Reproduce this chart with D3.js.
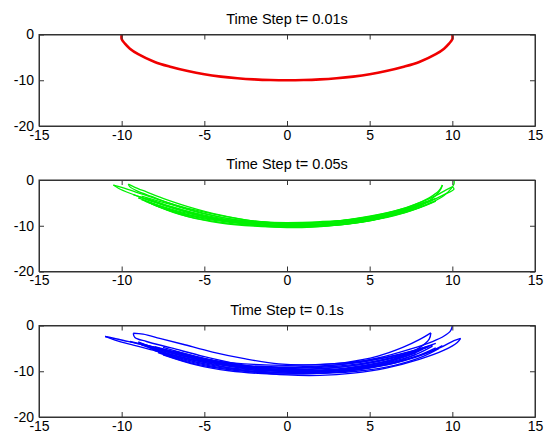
<!DOCTYPE html>
<html>
<head>
<meta charset="utf-8">
<script src="https://cdn.jsdelivr.net/npm/d3@7"></script>
<style>
  body { margin:0; background:#fff; }
  svg text { font-family: "Liberation Sans", Arial, Helvetica, sans-serif; }
</style>
</head>
<body>
<div id="chart"></div>
<script>
var titles = ["Time Step t= 0.01s", "Time Step t= 0.05s", "Time Step t= 0.1s"];
var colors = ["#f00000", "#00f000", "#0000ff"];
var xTicks = [-15, -10, -5, 0, 5, 10, 15];
var yTicks = [0, -10, -20];

// t = 0.01s : one thick arc
var redStrands = [
  [[-10,0],[-10,-1],[-9.8,-2],[-9.5,-3.1],[-9,-4.3],[-8,-6],[-7,-7.1],[-6,-8],[-5,-8.7],[-4,-9.2],[-3,-9.55],[-2,-9.8],[-1,-9.95],[0,-10],
   [1,-9.95],[2,-9.8],[3,-9.55],[4,-9.2],[5,-8.7],[6,-8],[7,-7.1],[8,-6],[9,-4.3],[9.5,-3.1],[9.8,-2],[10,-1],[10,0]]
];

// t = 0.05s : bundle of strands
var greenStrands = [
  [[-10.5,-1.1],[-10.2,-1.8],[-9.5,-2.9],[-8.5,-4.2],[-7,-5.9],[-5,-7.7],[-3,-9.0],[-1,-9.8],[0,-10.0],[1,-10.0],[3,-9.5],[5,-8.5],[7,-6.8],[8.5,-4.9],[9.5,-3.2],[10.1,-2.0],[10.0,-1.5]],
  [[-10.5,-1.1],[-9.9,-1.7],[-9.0,-2.8],[-8,-4.0],[-6.5,-5.7],[-4.5,-7.4],[-2.5,-8.7],[-0.5,-9.4],[0.5,-9.5],[2.5,-9.2],[4.5,-8.3],[6.5,-6.8],[8,-5.0],[9,-3.4],[9.6,-2.2],[10.0,-1.5]],
  [[-9.6,-0.9],[-9.5,-1.5],[-9.0,-2.5],[-8.2,-3.6],[-7,-5.2],[-5,-7.3],[-3,-8.8],[-1,-9.6],[1,-9.8],[3,-9.4],[5,-8.4],[7,-6.9],[8.3,-5.2],[9.0,-3.4],[9.3,-2.0],[9.4,-1.1]],
  [[-9.6,-0.9],[-9.2,-1.6],[-8.5,-2.6],[-7.5,-4.0],[-6,-5.8],[-4,-7.7],[-2,-9.0],[0,-9.5],[2,-9.3],[4,-8.5],[6,-7.2],[7.5,-5.7],[8.6,-3.9],[9.2,-2.3],[9.4,-1.1]],
  [[-9.3,-3.2],[-8,-4.8],[-6,-7.0],[-4,-8.6],[-2,-9.7],[0,-10.2],[2,-10.0],[4,-9.3],[6,-8.0],[7.5,-6.6],[8.7,-5.0],[9.5,-3.4],[9.9,-2.0],[10.1,-0.9],[10.1,0]],
  [[-9.0,-3.6],[-7.5,-5.5],[-5.5,-7.6],[-3.5,-9.1],[-1.5,-10.1],[0,-10.4],[1.5,-10.3],[3.5,-9.7],[5.5,-8.5],[7.5,-6.7],[8.8,-4.8]],
  [[-8.5,-4.0],[-7,-5.8],[-5,-7.9],[-3,-9.3],[-1,-10.1],[0.5,-10.3],[2.5,-10.0],[4.5,-9.2],[6.5,-7.8],[8,-6.1],[9,-4.6]],
  [[-8.8,-3.5],[-7,-5.4],[-5,-7.4],[-3,-8.7],[-1,-9.3],[1,-9.4],[3,-9.0],[5,-8.1],[7,-6.5],[8.5,-4.6]],
  [[-9,-3.9],[-7.5,-5.8],[-6,-7.3],[-4,-8.6],[-2,-9.1],[0,-9.3],[2,-9.1],[4,-8.6],[6,-7.4],[7.5,-5.9],[9,-4.0]],
  [[-8.8,-4.3],[-7.5,-6.0],[-6,-7.6],[-4,-8.8],[-2,-9.3],[0,-9.5],[2,-9.3],[4,-8.8],[6,-7.6],[7.5,-6.0],[8.8,-4.4]],
  [[-8.6,-4.6],[-7,-6.6],[-5,-8.3],[-3,-9.2],[-1,-9.6],[1,-9.7],[3,-9.3],[5,-8.4],[7,-6.7],[8.6,-4.7]],
  [[-8.4,-4.9],[-7,-6.8],[-5,-8.5],[-3,-9.4],[-1,-9.85],[1,-9.9],[3,-9.5],[5,-8.6],[7,-6.9],[8.4,-5.0]],
  [[-8.2,-5.2],[-6.5,-7.5],[-4.5,-9.0],[-2.5,-9.8],[-0.5,-10.1],[1.5,-10.0],[3.5,-9.6],[5.5,-8.5],[7,-7.1],[8.2,-5.4]],
  [[-8,-5.5],[-6,-8.0],[-4,-9.4],[-2,-10.1],[0,-10.3],[2,-10.1],[4,-9.5],[6,-8.1],[8,-5.6]]
];

// t = 0.1s : wider bundle with loops
var blueStrands = [
  [[-11,-2.4],[-10.4,-3.2],[-9.3,-4.3],[-8,-5.5],[-6,-7.3],[-4,-8.9],[-2,-10.1],[0,-10.8],[2,-10.9],[4,-10.4],[6,-9.3],[8,-7.4],[9.5,-5.4],[10.3,-3.7],[10.5,-2.8]],
  [[-11,-2.4],[-10.2,-3.0],[-9,-4.0],[-7.5,-5.2],[-5.5,-6.9],[-3.5,-8.3],[-1.5,-9.4],[0.5,-9.9],[2.5,-9.9],[4.5,-9.3],[6.5,-8.0],[8,-6.6],[9.3,-4.8],[10.1,-3.3],[10.5,-2.8]],
  [[-9.3,-1.7],[-9.2,-2.6],[-8.5,-3.5],[-7,-4.9],[-5,-6.8],[-3,-8.4],[-1,-9.5],[1,-9.9],[3,-9.6],[5,-8.6],[6.8,-6.9],[8,-4.9],[8.6,-3.0],[8.7,-1.6]],
  [[-9.3,-1.7],[-8.7,-1.9],[-7.7,-2.8],[-6.3,-4.1],[-4.5,-5.8],[-2.5,-7.3],[-0.5,-8.4],[1.5,-8.6],[3.5,-8.1],[5.5,-6.7],[7,-4.8],[8,-3.1],[8.7,-1.6]],
  [[10,0],[9.9,-1.1],[9.5,-2.3],[8.8,-3.5],[7.5,-5.1],[5.5,-7.1],[3.5,-8.4],[1.5,-9.1],[-0.5,-9.2],[-2.5,-8.9],[-4.5,-8.0],[-6.5,-6.5],[-8.2,-4.7],[-9,-3.6]],
  [[-8.8,-4.3],[-7,-6.0],[-5,-7.8],[-3,-9.2],[-1,-10.2],[1,-10.5],[3,-10.2],[5,-9.3],[7,-7.8],[8.5,-6.0],[9.4,-4.4]],
  [[-9.5,-3.5],[-7.5,-5.2],[-5.5,-7.1],[-3.5,-8.7],[-1.5,-9.7],[0.5,-10.1],[2.5,-10.0],[4.5,-9.4],[6.5,-8.2],[8,-6.5],[9,-4.9]],
  [[-8,-4.6],[-6,-6.5],[-4,-8.2],[-2,-9.4],[0,-10.0],[2,-10.0],[4,-9.4],[6,-8.2],[7.8,-6.3],[8.8,-4.5]],
  [[-7.5,-4.8],[-5.5,-6.8],[-3.5,-8.4],[-1.5,-9.6],[0.5,-10.3],[2.5,-10.4],[4.5,-9.9],[6.5,-8.7],[8.2,-6.8],[9.2,-5.0]],
  [[-6.8,-5.6],[-4.5,-7.6],[-2.5,-9.0],[-0.5,-9.7],[1.5,-9.6],[3.5,-9.0],[5.5,-7.8],[7.2,-6.2]],
  [[-9,-3.8],[-7.5,-5.3],[-6,-6.6],[-4,-7.9],[-2,-8.5],[0,-8.7],[2,-8.5],[4,-8.0],[6,-7.0],[7.5,-5.7],[9,-3.9]],
  [[-8.8,-4.2],[-7,-6.0],[-5,-7.6],[-3,-8.6],[-1,-9.0],[1,-9.0],[3,-8.6],[5,-7.7],[7,-6.1],[8.8,-4.3]],
  [[-8.6,-4.5],[-7,-6.3],[-5,-7.9],[-3,-8.9],[-1,-9.3],[1,-9.3],[3,-8.9],[5,-8.0],[7,-6.4],[8.6,-4.6]],
  [[-8.4,-4.8],[-6.5,-6.9],[-4.5,-8.4],[-2.5,-9.3],[-0.5,-9.6],[1.5,-9.5],[3.5,-9.0],[5.5,-7.9],[7,-6.6],[8.4,-4.9]],
  [[-8.2,-5.1],[-6.5,-7.1],[-4.5,-8.7],[-2.5,-9.6],[-0.5,-9.9],[1.5,-9.8],[3.5,-9.3],[5.5,-8.2],[7,-6.9],[8.2,-5.2]],
  [[-8,-5.5],[-6,-7.8],[-4,-9.2],[-2,-10.0],[0,-10.2],[2,-10.0],[4,-9.3],[6,-7.9],[8,-5.6]],
  [[-7.8,-5.9],[-6,-8.0],[-4,-9.4],[-2,-10.2],[0,-10.4],[2,-10.2],[4,-9.5],[6,-8.1],[7.8,-6.0]],
  [[-7.5,-6.4],[-5.5,-8.6],[-3.5,-9.9],[-1.5,-10.5],[0.5,-10.6],[2.5,-10.3],[4.5,-9.5],[6.5,-8.0],[7.8,-6.3]]
];

var allStrands = [redStrands, greenStrands, blueStrands];
var widths = [2.6, 1.3, 1.35];

var width = 546, height = 441;
var left = 39, right = 535;
var tops = [34.5, 180, 325.5];
var plotH = 91.5;

var svg = d3.select('#chart')
    .append('svg')
    .attr('width', width)
    .attr('height', height);

var x = d3.scaleLinear().domain([-15, 15]).range([left, right]);

tops.forEach(function (top, i) {
    var y = d3.scaleLinear().domain([-20, 0]).range([top + plotH, top]);

    var g = svg.append('g');

    var line = d3.line()
        .x(d => x(d[0]))
        .y(d => y(d[1]))
        .curve(d3.curveCatmullRom.alpha(0.5));

    g.selectAll('path.strand')
        .data(allStrands[i])
        .enter()
        .append('path')
        .attr('class', 'strand')
        .attr('d', line)
        .attr('fill', 'none')
        .attr('stroke', colors[i])
        .attr('stroke-width', widths[i])
        .attr('stroke-linejoin', 'round');

    // box
    g.append('rect')
        .attr('x', left).attr('y', top)
        .attr('width', right - left).attr('height', plotH)
        .attr('fill', 'none').attr('stroke', '#333').attr('stroke-width', 1);

    var fmt = d => String(d);

    g.append('g')
        .attr('transform', 'translate(0,' + (top + plotH) + ')')
        .call(d3.axisBottom(x).tickValues(xTicks).tickFormat(fmt).tickSizeInner(-5).tickSizeOuter(0).tickPadding(4));
    g.append('g')
        .attr('transform', 'translate(0,' + top + ')')
        .call(d3.axisTop(x).tickValues(xTicks).tickFormat('').tickSizeInner(-5).tickSizeOuter(0));
    g.append('g')
        .attr('transform', 'translate(' + left + ',0)')
        .call(d3.axisLeft(y).tickValues(yTicks).tickFormat(fmt).tickSizeInner(-5).tickSizeOuter(0).tickPadding(5));
    g.append('g')
        .attr('transform', 'translate(' + right + ',0)')
        .call(d3.axisRight(y).tickValues(yTicks).tickFormat('').tickSizeInner(-5).tickSizeOuter(0));

    g.selectAll('.domain').attr('stroke', '#333');
    g.selectAll('.tick line').attr('stroke', '#333');
    g.selectAll('.tick text').attr('font-size', 14).attr('fill', '#000')
        .attr('font-family', '"Liberation Sans", Arial, sans-serif');

    g.append('text')
        .attr('x', (left + right) / 2)
        .attr('y', top - 11)
        .attr('text-anchor', 'middle')
        .attr('font-size', 14.5)
        .text(titles[i]);
});
</script>
</body>
</html>
